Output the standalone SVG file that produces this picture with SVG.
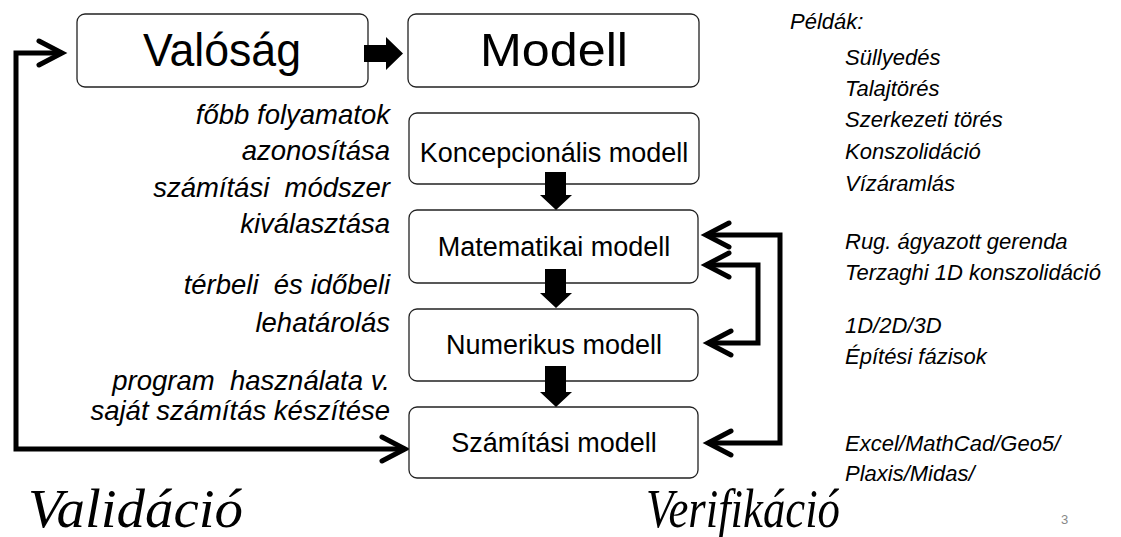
<svg xmlns="http://www.w3.org/2000/svg" width="1121" height="537" viewBox="0 0 1121 537">
<style>
.box{fill:#fff;stroke:#222;stroke-width:1.3}
.big{font-family:"Liberation Sans",Arial,sans-serif;font-size:46px;fill:#000;text-anchor:middle}
.mid{font-family:"Liberation Sans",Arial,sans-serif;font-size:27px;fill:#000;text-anchor:middle}
.lbl{font-family:"Liberation Sans",Arial,sans-serif;font-size:27.5px;font-style:italic;fill:#000;text-anchor:end}
.ex{font-family:"Liberation Sans",Arial,sans-serif;font-size:22px;font-style:italic;fill:#000}
.ser{font-family:"Liberation Serif","Times New Roman",serif;font-size:54px;font-style:italic;fill:#000}
.conn{fill:none;stroke:#000;stroke-width:5;stroke-linejoin:miter}
.blk{fill:#000}
</style>
<defs>
<marker id="chev" markerUnits="userSpaceOnUse" markerWidth="40" markerHeight="40" viewBox="-30 -20 40 40" refX="0" refY="0" orient="auto-start-reverse" overflow="visible">
<path d="M-23,-12 L0,0 L-23,12" fill="none" stroke="#000" stroke-width="5" stroke-linecap="round" stroke-linejoin="miter"/>
</marker>
</defs>

<g id="connectors">
<path class="conn" d="M62,53 L16,53 L16,449 L405,449" marker-start="url(#chev)" marker-end="url(#chev)"/>
<path class="conn" d="M706,235 L780,235 L780,443 L708,443" marker-start="url(#chev)" marker-end="url(#chev)"/>
<path class="conn" d="M706,265 L758,265 L758,343 L708,343" marker-start="url(#chev)" marker-end="url(#chev)"/>
</g>

<g id="valosag">
<rect class="box" x="77" y="14" width="291" height="73" rx="8"/>
<text class="big" x="222" y="66" textLength="158" lengthAdjust="spacingAndGlyphs">Valóság</text>
</g>
<g id="modell">
<rect class="box" x="408" y="14" width="291" height="73" rx="8"/>
<text class="big" x="554" y="66" textLength="148" lengthAdjust="spacingAndGlyphs">Modell</text>
</g>
<g id="koncepcionalis">
<rect class="box" x="409" y="113" width="290" height="71" rx="8"/>
<text class="mid" x="554" y="162">Koncepcionális modell</text>
</g>
<g id="matematikai">
<rect class="box" x="409" y="210" width="289" height="73" rx="8"/>
<text class="mid" x="554" y="256">Matematikai modell</text>
</g>
<g id="numerikus">
<rect class="box" x="409" y="309" width="289" height="72" rx="8"/>
<text class="mid" x="554" y="354">Numerikus modell</text>
</g>
<g id="szamitasi">
<rect class="box" x="409" y="407" width="289" height="71" rx="8"/>
<text class="mid" x="554" y="452">Számítási modell</text>
</g>

<g id="block-arrows">
<path class="blk" d="M364,45 L386,45 L386,37 L403,53.5 L386,70 L386,62 L364,62 Z"/>
<path class="blk" d="M545,172 L566,172 L566,195 L572,195 L556,210 L540,195 L545,195 Z"/>
<path class="blk" d="M545,269 L566,269 L566,293 L572,293 L556,308 L540,293 L545,293 Z"/>
<path class="blk" d="M545,366 L566,366 L566,392 L572,392 L556,407 L540,392 L545,392 Z"/>
</g>

<g id="left-labels">
<text class="lbl" x="390" y="124">főbb folyamatok</text>
<text class="lbl" x="390" y="160">azonosítása</text>
<text class="lbl" x="390" y="197" xml:space="preserve">számítási  módszer</text>
<text class="lbl" x="390" y="233">kiválasztása</text>
<text class="lbl" x="390" y="294" xml:space="preserve">térbeli  és időbeli</text>
<text class="lbl" x="390" y="332">lehatárolás</text>
<text class="lbl" x="390" y="390" xml:space="preserve">program  használata v.</text>
<text class="lbl" x="390" y="420">saját számítás készítése</text>
</g>

<g id="examples">
<text class="ex" x="790" y="29">Példák:</text>
<text class="ex" x="845" y="65">Süllyedés</text>
<text class="ex" x="845" y="96">Talajtörés</text>
<text class="ex" x="845" y="127">Szerkezeti törés</text>
<text class="ex" x="845" y="159">Konszolidáció</text>
<text class="ex" x="845" y="191">Vízáramlás</text>
<text class="ex" x="845" y="249">Rug. ágyazott gerenda</text>
<text class="ex" x="845" y="280">Terzaghi 1D konszolidáció</text>
<text class="ex" x="845" y="333">1D/2D/3D</text>
<text class="ex" x="845" y="364">Építési fázisok</text>
<text class="ex" x="845" y="451">Excel/MathCad/Geo5/</text>
<text class="ex" x="845" y="481">Plaxis/Midas/</text>
</g>

<g id="bottom">
<text class="ser" x="28" y="527" textLength="215" lengthAdjust="spacingAndGlyphs">Validáció</text>
<text class="ser" x="646" y="527" textLength="194" lengthAdjust="spacingAndGlyphs">Verifikáció</text>
<text x="1061" y="524" style="font-family:'Liberation Sans',Arial,sans-serif;font-size:13px;fill:#888">3</text>
</g>
</svg>
